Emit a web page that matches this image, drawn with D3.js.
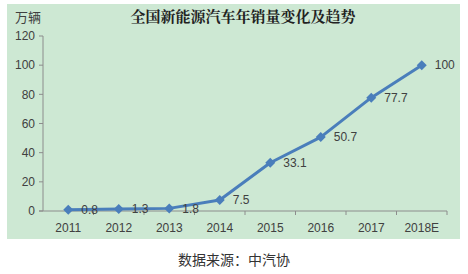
<!DOCTYPE html>
<head>
    <meta charset="utf-8">
    <script src="https://d3js.org/d3.v7.min.js"></script>
    <style>
        body { margin:0; background:#fff; }
    </style>
</head>
<body>
    <svg id="chart" width="468" height="274"></svg>
    <script>
        const years = ["2011", "2012", "2013", "2014", "2015", "2016", "2017", "2018E"];
        const sales = [0.8, 1.3, 1.8, 7.5, 33.1, 50.7, 77.7, 100];
        const yTicks = [0, 20, 40, 60, 80, 100, 120];

        const svg = d3.select("#chart");
        const cjk = "'Noto Sans CJK SC', sans-serif";

        // green panel
        svg.append("rect")
                .attr("x", 7).attr("y", 4)
                .attr("width", 453).attr("height", 235)
                .attr("fill", "#cde8d3");

        const x = d3.scaleBand().domain(years).range([43, 447]);
        const y = d3.scaleLinear().domain([0, 120]).range([211, 36]);

        // y axis
        svg.append("line")
                .attr("x1", 43).attr("x2", 43)
                .attr("y1", y(120)).attr("y2", y(0))
                .attr("stroke", "#8c8c8c").attr("stroke-width", 1);
        svg.append("g").selectAll("line")
                .data(yTicks)
                .join("line")
                .attr("x1", 39).attr("x2", 43)
                .attr("y1", d => y(d)).attr("y2", d => y(d))
                .attr("stroke", "#8c8c8c");
        svg.append("g").selectAll("text")
                .data(yTicks)
                .join("text")
                .attr("x", 35).attr("y", d => y(d))
                .attr("dy", "0.35em")
                .attr("text-anchor", "end")
                .attr("fill", "#404040")
                .style("font", "12px 'Liberation Sans', sans-serif")
                .text(d => d);

        // x axis
        svg.append("line")
                .attr("x1", 39).attr("x2", 447)
                .attr("y1", y(0)).attr("y2", y(0))
                .attr("stroke", "#8c8c8c");
        svg.append("g").selectAll("line")
                .data(years.map((d, i) => i + 1))
                .join("line")
                .attr("x1", d => 43 + d * x.step()).attr("x2", d => 43 + d * x.step())
                .attr("y1", y(0)).attr("y2", y(0) + 4)
                .attr("stroke", "#8c8c8c");
        svg.append("g").selectAll("text")
                .data(years)
                .join("text")
                .attr("x", d => x(d) + x.bandwidth() / 2)
                .attr("y", 232)
                .attr("text-anchor", "middle")
                .attr("fill", "#404040")
                .style("font", "12px 'Liberation Sans', sans-serif")
                .text(d => d);

        // line + markers
        const pts = years.map((d, i) => [x(d) + x.bandwidth() / 2, y(sales[i])]);
        svg.append("path")
                .attr("d", d3.line()(pts))
                .attr("fill", "none")
                .attr("stroke", "#4a7ebb")
                .attr("stroke-width", 3)
                .attr("stroke-linejoin", "round");
        svg.append("g").selectAll("path")
                .data(pts)
                .join("path")
                .attr("transform", d => `translate(${d[0]},${d[1]})`)
                .attr("d", "M0,-5L5,0L0,5L-5,0Z")
                .attr("fill", "#4a7ebb");

        // data labels
        svg.append("g").selectAll("text")
                .data(sales)
                .join("text")
                .attr("x", (d, i) => pts[i][0] + 13)
                .attr("y", (d, i) => pts[i][1])
                .attr("dy", "0.35em")
                .attr("fill", "#404040")
                .style("font", "12px 'Liberation Sans', sans-serif")
                .text(d => d);

        // titles
        svg.append("text")
                .attr("x", 243).attr("y", 22)
                .attr("text-anchor", "middle")
                .attr("fill", "#222")
                .style("font", "bold 15px 'Noto Serif CJK SC', 'Noto Sans CJK SC', serif")
                .text("全国新能源汽车年销量变化及趋势");
        svg.append("text")
                .attr("x", 15).attr("y", 22)
                .attr("fill", "#404040")
                .style("font", "13px " + cjk)
                .text("万辆");
        svg.append("text")
                .attr("x", 234).attr("y", 265)
                .attr("text-anchor", "middle")
                .attr("fill", "#333")
                .style("font", "14px " + cjk)
                .text("数据来源：中汽协");
    </script>
</body>
